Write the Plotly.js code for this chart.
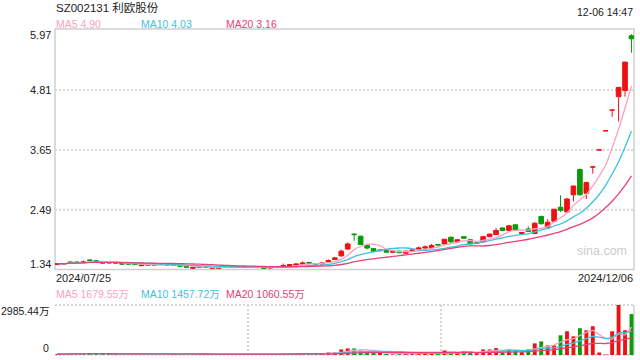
<!DOCTYPE html>
<html><head><meta charset="utf-8">
<script src="https://cdn.plot.ly/plotly-3.0.1.min.js"></script>
<style>html,body{margin:0;padding:0;background:#fff}#chart{width:640px;height:360px}</style>
</head><body><div id="chart"></div>
<script>
const dates = [
 '07/25','07/26','07/29','07/30','07/31',
 '08/01','08/02','08/05','08/06','08/07','08/08','08/09','08/12','08/13','08/14','08/15','08/16','08/19','08/20','08/21','08/22','08/23','08/26','08/27','08/28','08/29','08/30',
 '09/02','09/03','09/04','09/05','09/06','09/09','09/10','09/11','09/12','09/13','09/18','09/19','09/20','09/23','09/24','09/25','09/26','09/27','09/30',
 '10/08','10/09','10/10','10/11','10/14','10/15','10/16','10/17','10/18','10/21','10/22','10/23','10/24','10/25','10/28','10/29','10/30','10/31',
 '11/01','11/04','11/05','11/06','11/07','11/08','11/11','11/12','11/13','11/14','11/15','11/18','11/19','11/20','11/21','11/22','11/25','11/26','11/27','11/28','11/29',
 '12/02','12/03','12/04','12/05','12/06'];
const opens = [1.43,1.44,1.48,1.48,1.47,1.52,1.50,1.47,1.46,1.47,1.45,1.45,1.45,1.41,1.43,1.42,1.43,1.42,1.43,1.42,1.40,1.36,1.38,1.39,1.36,1.36,1.38,1.39,1.39,1.39,
 1.39,1.39,1.38,1.37,1.39,1.39,1.41,1.42,1.44,1.47,1.45,1.44,1.48,1.53,1.60,1.73,2.02,1.98,1.80,1.74,1.70,1.70,1.67,1.69,1.65,1.70,1.73,1.75,1.76,1.82,
 1.83,1.96,1.87,1.97,1.91,1.84,1.87,1.97,2.01,2.14,2.09,2.20,2.03,2.12,2.03,2.36,2.14,2.27,2.54,2.45,2.78,3.27,2.81,3.32,3.65,4.02,4.42,4.68,4.80,5.86];
const highs = [1.46,1.46,1.50,1.49,1.51,1.53,1.52,1.48,1.48,1.48,1.46,1.46,1.46,1.43,1.44,1.44,1.44,1.44,1.44,1.43,1.41,1.38,1.40,1.40,1.38,1.38,1.41,1.40,1.40,1.40,
 1.40,1.40,1.39,1.38,1.40,1.45,1.44,1.45,1.49,1.48,1.46,1.48,1.53,1.58,1.72,1.86,2.04,1.99,1.83,1.75,1.72,1.72,1.69,1.70,1.70,1.72,1.78,1.80,1.83,1.83,
 1.93,1.97,1.92,1.98,1.93,1.86,1.99,2.03,2.14,2.15,2.20,2.21,2.06,2.17,2.25,2.38,2.31,2.51,2.77,2.72,2.96,3.29,3.03,3.32,3.65,4.02,4.42,4.86,5.35,5.89];
const lows = [1.42,1.43,1.46,1.46,1.46,1.50,1.49,1.45,1.45,1.45,1.43,1.43,1.42,1.40,1.41,1.41,1.42,1.41,1.41,1.39,1.37,1.34,1.37,1.37,1.35,1.35,1.37,1.37,1.37,1.37,
 1.38,1.37,1.35,1.35,1.37,1.38,1.40,1.41,1.43,1.45,1.43,1.43,1.47,1.52,1.58,1.72,1.89,1.81,1.72,1.68,1.68,1.66,1.66,1.65,1.64,1.69,1.72,1.74,1.75,1.80,
 1.82,1.85,1.86,1.93,1.82,1.83,1.86,1.96,2.00,2.08,2.08,2.08,2.02,2.06,2.02,2.21,2.13,2.26,2.45,2.44,2.65,2.77,2.70,3.19,3.65,4.02,4.29,4.20,4.68,5.53];
const closes = [1.45,1.45,1.47,1.47,1.48,1.51,1.50,1.46,1.47,1.46,1.44,1.44,1.43,1.42,1.42,1.43,1.43,1.43,1.42,1.40,1.38,1.37,1.39,1.38,1.37,1.37,1.39,1.38,1.38,1.38,
 1.39,1.38,1.36,1.37,1.38,1.41,1.43,1.44,1.46,1.46,1.44,1.46,1.51,1.56,1.69,1.83,2.01,1.82,1.75,1.69,1.71,1.67,1.68,1.66,1.69,1.71,1.75,1.77,1.80,1.81,
 1.92,1.87,1.91,1.94,1.83,1.85,1.97,2.02,2.09,2.09,2.18,2.09,2.05,2.07,2.23,2.22,2.25,2.50,2.48,2.70,2.95,2.78,3.02,3.32,3.65,4.02,4.42,4.86,5.35,5.80];
const volumes = [60,55,90,70,85,120,75,70,55,60,50,45,55,60,45,40,45,40,35,70,60,75,55,45,60,50,55,45,40,45,
 40,60,70,45,55,110,80,75,100,70,60,90,150,150,332,392,392,271,170,130,130,70,30,70,110,110,70,110,110,70,
 271,130,130,211,211,110,332,332,412,211,332,271,170,332,693,814,573,573,1176,1417,1116,1598,1477,1718,150,30,1417,2985.44,1477,2442];
const priceTicks = [1.34, 2.49, 3.65, 4.81, 5.97];
const volTickVals = [2985.44, 0];
const volTickLabels = ['2985.44万', '0'];
const titleText = 'SZ002131 利欧股份';
const stampText = '12-06 14:47';
const maLabels = ['MA5 4.90', 'MA10 4.03', 'MA20 3.16'];
const volMaLabels = ['MA5 1679.55万', 'MA10 1457.72万', 'MA20 1060.55万'];
const startLabel = '2024/07/25', endLabel = '2024/12/06';
const maPeriods = [5, 10, 20];
const maColors = ['#f7a3c2', '#3ec3de', '#e9407c'];
const UP = '#ee1111', DOWN = '#0a9a0a';

function ma(arr, n) {
  return arr.map((v, i) => { const s = Math.max(0, i - n + 1); let t = 0; for (let k = s; k <= i; k++) t += arr[k]; return t / (i - s + 1); });
}
const upFlags = closes.map((c, i) => c > opens[i] ? true : (c < opens[i] ? false : (i > 0 ? c >= closes[i - 1] : true)));

const traces = [];
traces.push({type: 'candlestick', x: dates, open: opens, high: highs, low: lows, close: closes, xaxis: 'x', yaxis: 'y',
  increasing: {line: {color: UP, width: 1}, fillcolor: UP}, decreasing: {line: {color: DOWN, width: 1}, fillcolor: DOWN},
  whiskerwidth: 0, hoverinfo: 'skip'});
maPeriods.forEach((p, k) => traces.push({type: 'scatter', mode: 'lines', x: dates, y: ma(closes, p), xaxis: 'x', yaxis: 'y',
  line: {color: maColors[k], width: 1.3, shape: 'spline', smoothing: 0.6}, hoverinfo: 'skip'}));
traces.push({type: 'bar', x: dates, y: volumes, xaxis: 'x2', yaxis: 'y2', width: 0.6,
  marker: {color: upFlags.map(u => u ? UP : DOWN), line: {width: 0}}, hoverinfo: 'skip'});
maPeriods.forEach((p, k) => traces.push({type: 'scatter', mode: 'lines', x: dates, y: ma(volumes, p), xaxis: 'x2', yaxis: 'y2',
  line: {color: maColors[k], width: 1.3, shape: 'spline', smoothing: 0.6}, hoverinfo: 'skip'}));

const H = 360, T = 29, B = 5, L = 55, R = 6;
const PH = H - T - B, PW = 640 - L - R;
const py = Y => (H - B - Y) / PH;
const px = X => (X - L) / PW;
const FONT = '"Liberation Sans", Arial, "Noto Sans CJK SC", sans-serif';

const dotLine = {color: '#d6d6d6', width: 2, dash: '2px,2px'};
const shapes = [
  {type: 'rect', xref: 'x domain', yref: 'y domain', x0: 0, x1: 1, y0: 0, y1: 1, line: {color: '#cfcfcf', width: 1.5}, layer: 'below'}
];
priceTicks.slice(1, -1).forEach(v => shapes.push({type: 'line', xref: 'x domain', yref: 'y', x0: 0, x1: 1, y0: v, y1: v, line: dotLine, layer: 'below'}));
shapes.push({type: 'line', xref: 'x2 domain', yref: 'y2 domain', x0: 0, x1: 1, y0: 1, y1: 1, line: dotLine, layer: 'below'});
shapes.push({type: 'line', xref: 'x2 domain', yref: 'y2 domain', x0: 0, x1: 1, y0: 0, y1: 0, line: dotLine, layer: 'below'});
[1/3, 2/3].forEach(f => shapes.push({type: 'line', xref: 'x2 domain', yref: 'y2 domain', x0: f, x1: f, y0: 0, y1: 1, line: dotLine, layer: 'below'}));
shapes.push({type: 'line', xref: 'x2 domain', yref: 'y2 domain', x0: 1, x1: 1, y0: 0, y1: 1, line: {color: '#cfcfcf', width: 1.5}, layer: 'below'});

const ann = [];
const txt = (text, x, y, anchor, size, color, extra) => Object.assign({text, x, y, xref: 'paper', yref: 'paper', xanchor: anchor, yanchor: 'middle', showarrow: false,
  font: {family: FONT, size, color}, borderpad: 0}, extra || {});
ann.push(txt(titleText, 0, py(8), 'left', 11.5, '#222'));
ann.push(txt(stampText, 1, py(11.7), 'right', 10.5, '#222'));
const maX = [0, px(140), px(225)];
maLabels.forEach((t, k) => ann.push(txt(t, maX[k], py(24), 'left', 10.5, maColors[k])));
volMaLabels.forEach((t, k) => ann.push(txt(t, maX[k], py(294), 'left', 10.5, maColors[k])));
ann.push(txt(startLabel, 0, py(277.5), 'left', 11, '#222'));
ann.push(txt(endLabel, 1, py(277.5), 'right', 11, '#222'));
ann.push(txt('sina.com', px(602), py(251), 'center', 12.5, '#cccccc'));
priceTicks.forEach((v, k) => ann.push({text: v.toFixed(2), x: 0, xref: 'paper', y: v, yref: 'y', xanchor: 'right', yanchor: 'middle', xshift: -3,
  yshift: k === 0 ? 5 : (k === priceTicks.length - 1 ? -5 : 0), showarrow: false, borderpad: 0, font: {family: FONT, size: 11, color: '#222'}}));
volTickVals.forEach((v, k) => ann.push({text: volTickLabels[k], x: 0, xref: 'paper', y: v, yref: 'y2', xanchor: 'right', yanchor: 'middle', xshift: -5,
  yshift: k === 0 ? -6 : 7, showarrow: false, borderpad: 0, font: {family: FONT, size: 10.5, color: '#222'}}));

const axHidden = {showticklabels: false, showgrid: false, zeroline: false, showline: false, ticks: '', fixedrange: true};
const layout = {
  width: 640, height: 360, margin: {l: L, r: R, t: T, b: B, pad: 0},
  paper_bgcolor: '#ffffff', plot_bgcolor: 'rgba(0,0,0,0)', showlegend: false,
  font: {family: FONT, size: 11, color: '#222'},
  boxgap: 0.28, boxgroupgap: 0,
  xaxis: Object.assign({type: 'category', range: [-0.39, dates.length - 1 + 0.39], domain: [0, 1], anchor: 'y', rangeslider: {visible: false}}, axHidden),
  yaxis: Object.assign({domain: [py(269.5), 1], range: [1.335, 5.99]}, axHidden),
  xaxis2: Object.assign({type: 'category', matches: 'x', anchor: 'y2', domain: [0, 1]}, axHidden),
  yaxis2: Object.assign({domain: [0, py(305)], range: [0, 2985.44]}, axHidden),
  shapes, annotations: ann
};
Plotly.newPlot('chart', traces, layout, {staticPlot: true, displayModeBar: false});
</script></body></html>
